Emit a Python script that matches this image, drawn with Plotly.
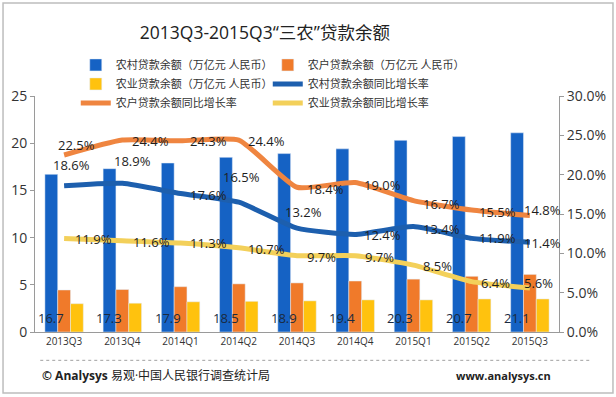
import plotly.graph_objects as go

categories = ["2013Q3", "2013Q4", "2014Q1", "2014Q2", "2014Q3", "2014Q4", "2015Q1", "2015Q2", "2015Q3"]
rural_loans = [16.7, 17.3, 17.9, 18.5, 18.9, 19.4, 20.3, 20.7, 21.1]
farmer_loans = [4.45, 4.5, 4.8, 5.1, 5.2, 5.4, 5.6, 5.9, 6.1]
agri_loans = [3.0, 3.05, 3.2, 3.25, 3.3, 3.4, 3.4, 3.5, 3.5]
rural_growth = [0.186, 0.189, 0.176, 0.165, 0.132, 0.124, 0.134, 0.119, 0.114]
farmer_growth = [0.225, 0.244, 0.243, 0.244, 0.184, 0.190, 0.167, 0.155, 0.148]
agri_growth = [0.119, 0.116, 0.113, 0.107, 0.097, 0.097, 0.085, 0.064, 0.056]

names = ["农村贷款余额（万亿元 人民币）", "农户贷款余额（万亿元 人民币）",
         "农业贷款余额（万亿元 人民币）", "农村贷款余额同比增长率",
         "农户贷款余额同比增长率", "农业贷款余额同比增长率"]

# label offsets (pixels) for the growth-rate labels: (dx right, dy down)
off_rural = [(7, -21), (10, -22), (28, 1), (3, -25), (6, -16), (27, 1), (28, 2), (26, 0), (13, 1)]
off_farmer = [(12, -10), (28, 1), (28, 0), (28, 1), (28, 2), (27, 2), (28, 3), (26, 2), (13, -6)]
off_agri = [(29, 1), (29, 1), (28, 0), (28, 1), (24, 1), (24, 1), (24, 1), (24, 1), (9, -5)]

FONT = "Open Sans, Noto Sans CJK SC, sans-serif"
TXT = "#1e1e1e"

fig = go.Figure()
fig.add_trace(go.Bar(x=categories, y=rural_loans, name=names[0], marker_color="#1562c4"))
fig.add_trace(go.Bar(x=categories, y=farmer_loans, name=names[1], marker_color="#f07a2a"))
fig.add_trace(go.Bar(x=categories, y=agri_loans, name=names[2], marker_color="#ffc20e"))

annotations = []
for vals, nm, col, offs in [(rural_growth, names[3], "#1d5fae", off_rural),
                            (farmer_growth, names[4], "#ef8540", off_farmer),
                            (agri_growth, names[5], "#f3d05a", off_agri)]:
    fig.add_trace(go.Scatter(x=categories, y=vals, name=nm, yaxis="y2", mode="lines",
                             line=dict(color=col, width=5, shape="spline", smoothing=0.5)))
    for c, v, (dx, dy) in zip(categories, vals, offs):
        annotations.append(dict(x=c, y=v, xref="x", yref="y2", text=f"{v*100:.1f}%",
                                showarrow=False, xanchor="center", yanchor="middle",
                                xshift=dx, yshift=-dy,
                                font=dict(size=13, color=TXT, family=FONT)))

# value labels at the foot of the blue bars
for c, v in zip(categories, rural_loans):
    annotations.append(dict(x=c, y=0, text=f"{v:.1f}", xref="x", yref="y", showarrow=False,
                            xshift=-13, yshift=14, yanchor="middle", xanchor="center",
                            font=dict(size=13, color="#1a2a40", family=FONT)))

annotations += [
    dict(text="<b>© Analysys</b> 易观·中国人民银行调查统计局", xref="paper", yref="paper",
         x=0.01, y=-0.186, xanchor="left", yanchor="middle", showarrow=False,
         font=dict(size=12, color="#222222", family=FONT)),
    dict(text="<b>www.analysys.cn</b>", xref="paper", yref="paper",
         x=0.80, y=-0.186, xanchor="left", yanchor="middle", showarrow=False,
         font=dict(size=11, color="#222222", family=FONT)),
]

fig.update_layout(
    width=616, height=397,
    margin=dict(l=35, r=57, t=96, b=65, autoexpand=False),
    paper_bgcolor="white", plot_bgcolor="white",
    font=dict(family=FONT, color=TXT),
    barmode="group", bargap=0.34, bargroupgap=0,
    title=dict(text="2013Q3-2015Q3“三农”贷款余额", x=0.43, xanchor="center",
               y=0.918, yanchor="middle", font=dict(size=17.5, color="#222222", family=FONT)),
    legend=dict(orientation="h", xref="container", yref="container", x=0.123, xanchor="left",
                y=0.873, yanchor="top",
                entrywidth=147, entrywidthmode="pixels", traceorder="normal",
                font=dict(size=11, color="#333333", family=FONT), itemwidth=30,
                tracegroupgap=0, bgcolor="rgba(0,0,0,0)"),
    xaxis=dict(range=[-0.5, 8.5], showline=True, linecolor="#9a9a9a", linewidth=1, ticks="",
               automargin=False, tickfont=dict(size=10, color="#333333"), showgrid=False),
    yaxis=dict(range=[0, 25], dtick=5, showline=True, linecolor="#9a9a9a", ticks="outside",
               ticklen=4, tickcolor="#9a9a9a", showgrid=False, zeroline=False, automargin=False,
               tickfont=dict(size=14, color="#333333")),
    yaxis2=dict(range=[0, 0.30], dtick=0.05, tickformat=".1%", overlaying="y", side="right",
                showline=True, linecolor="#9a9a9a", ticks="outside", ticklen=4, automargin=False,
                tickcolor="#9a9a9a", showgrid=False, zeroline=False,
                tickfont=dict(size=14, color="#333333")),
    shapes=[
        dict(type="rect", xref="paper", yref="paper", x0=-0.061, x1=1.103, y0=-0.258, y1=1.394,
             line=dict(color="#bdbdbd", width=1.5), layer="below"),
        dict(type="line", xref="paper", yref="paper", x0=0.01, x1=1.061, y0=-0.12, y1=-0.12,
             line=dict(color="#a0a0a0", width=1, dash="dot")),
    ],
    annotations=annotations,
)

fig.write_html("out.html", config={"displayModeBar": False},
               post_script="document.body.style.margin='0';")
